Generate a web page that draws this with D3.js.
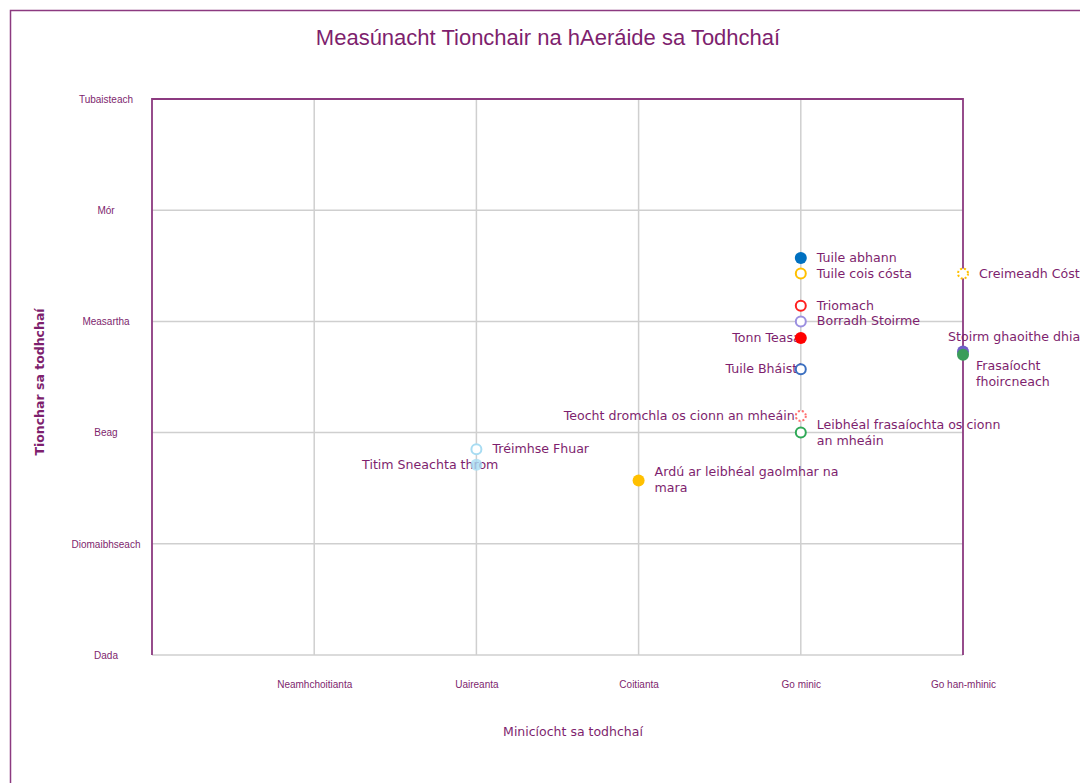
<!DOCTYPE html>
<html>
<head>
<meta charset="utf-8">
<script src="https://cdn.jsdelivr.net/npm/d3@7"></script>
<style>
  body { margin: 0; background: #fff; }
  svg { display: block; font-family: "DejaVu Sans", sans-serif; }
</style>
</head>
<body>
<div id="chart"></div>
<script>
// axis categories
const freqLabels = ["", "Neamhchoitianta", "Uaireanta", "Coitianta", "Go minic", "Go han-mhinic"];
const impactLabels = ["Dada", "Diomaibhseach", "Beag", "Measartha", "Mór", "Tubaisteach"];

// hazards: name, frequency (0-5), impact (0-5)
const hazardNames = [
  "Tuile abhann", "Tuile cois cósta", "Creimeadh Cósta", "Triomach", "Borradh Stoirme",
  "Tonn Teasa", "Stoirm ghaoithe dhian", "Frasaíocht fhoircneach", "Tuile Bháistí",
  "Teocht dromchla os cionn an mheáin", "Leibhéal frasaíochta os cionn an mheáin",
  "Tréimhse Fhuar", "Titim Sneachta throm", "Ardú ar leibhéal gaolmhar na mara"
];
const hazardFreq = [4, 4, 5, 4, 4, 4, 5, 5, 4, 4, 4, 2, 2, 3];
const hazardImpact = [3.57, 3.43, 3.43, 3.14, 3.0, 2.85, 2.73, 2.70, 2.57, 2.15, 2.0, 1.85, 1.71, 1.57];

// marker look + label placement (style only)
const markerStyle = {
  "Tuile abhann":        { color: "#0070c0", fill: true },
  "Tuile cois cósta":    { color: "#ffc000" },
  "Creimeadh Cósta":     { color: "#ffc000", dash: "2,2" },
  "Triomach":            { color: "#ff2020" },
  "Borradh Stoirme":     { color: "#9b8fe0" },
  "Tonn Teasa":          { color: "#ff0000", fill: true },
  "Stoirm ghaoithe dhian": { color: "#6f5fc8", fill: true },
  "Frasaíocht fhoircneach": { color: "#3a9d5a", fill: true },
  "Tuile Bháistí":       { color: "#3b6fc0" },
  "Teocht dromchla os cionn an mheáin": { color: "#ff7070", dash: "2,2" },
  "Leibhéal frasaíochta os cionn an mheáin": { color: "#2fa957" },
  "Tréimhse Fhuar":      { color: "#a8dcf2" },
  "Titim Sneachta throm": { color: "#a8dcf2", fill: true, opacity: 0.8 },
  "Ardú ar leibhéal gaolmhar na mara": { color: "#ffc000", fill: true }
};
const labelPlace = {
  "Tonn Teasa": { side: "left", dx: 6 },
  "Tuile Bháistí": { side: "left", dx: 6 },
  "Teocht dromchla os cionn an mheáin": { side: "left", dx: 0 },
  "Titim Sneachta throm": { side: "left", dx: 28 },
  "Stoirm ghaoithe dhian": { side: "above", dx: -15 },
  "Frasaíocht fhoircneach": { side: "below", lines: ["Frasaíocht", "fhoircneach"] },
  "Leibhéal frasaíochta os cionn an mheáin": { side: "right", lines: ["Leibhéal frasaíochta os cionn", "an mheáin"] },
  "Ardú ar leibhéal gaolmhar na mara": { side: "right", lines: ["Ardú ar leibhéal gaolmhar na", "mara"] }
};

const width = 1080, height = 783;
const purple = "#7e1f6e";
const grid = "#cfcfcf";

const svg = d3.select("#chart").append("svg")
  .attr("width", width)
  .attr("height", height);

// outer frame
svg.append("rect")
  .attr("x", 10.5).attr("y", 10.5)
  .attr("width", 1200).attr("height", 900)
  .attr("fill", "none")
  .attr("stroke", "#8c3a80")
  .attr("stroke-width", 1.5);

const x = d3.scaleLinear().domain([0, 5]).range([152, 963]);
const y = d3.scaleLinear().domain([0, 5]).range([655, 99]);

// gridlines
const gridG = svg.append("g");
gridG.selectAll("line.h")
  .data(d3.range(0, 5))
  .enter().append("line")
  .attr("class", "h")
  .attr("x1", x(0)).attr("x2", x(5))
  .attr("y1", d => y(d)).attr("y2", d => y(d))
  .attr("stroke", grid).attr("stroke-width", 1.5);
gridG.selectAll("line.v")
  .data(d3.range(1, 5))
  .enter().append("line")
  .attr("class", "v")
  .attr("x1", d => x(d)).attr("x2", d => x(d))
  .attr("y1", y(0)).attr("y2", y(5))
  .attr("stroke", grid).attr("stroke-width", 1.5);

// plot border (left, top, right)
svg.append("path")
  .attr("d", `M${x(0)},${y(0)}V${y(5)}H${x(5)}V${y(0)}`)
  .attr("fill", "none")
  .attr("stroke", "#8c3a80")
  .attr("stroke-width", 1.8);

// axes
const xAxis = svg.append("g")
  .attr("transform", `translate(0,${y(0)})`)
  .call(d3.axisBottom(x).tickValues([1, 2, 3, 4, 5]).tickFormat(d => freqLabels[d]).tickSize(0));
xAxis.select(".domain").remove();
xAxis.selectAll("text")
  .attr("y", 26)
  .attr("fill", purple)
  .style("font-size", "10px")
  .style("font-family", "'Liberation Sans', sans-serif");

const yAxis = svg.append("g")
  .call(d3.axisLeft(y).tickValues([0, 1, 2, 3, 4, 5]).tickFormat(d => impactLabels[d]).tickSize(0));
yAxis.select(".domain").remove();
yAxis.selectAll("text")
  .attr("x", 106)
  .attr("text-anchor", "middle")
  .attr("fill", purple)
  .style("font-size", "10px")
  .style("font-family", "'Liberation Sans', sans-serif");

// titles
svg.append("text")
  .attr("x", 548).attr("y", 45)
  .attr("text-anchor", "middle")
  .attr("fill", purple)
  .style("font-family", "'Liberation Sans', sans-serif")
  .style("font-size", "22px")
  .text("Measúnacht Tionchair na hAeráide sa Todhchaí");

svg.append("text")
  .attr("transform", "translate(44,382) rotate(-90)")
  .attr("text-anchor", "middle")
  .attr("fill", purple)
  .style("font-size", "12.5px")
  .style("font-weight", "bold")
  .text("Tionchar sa todhchaí");

svg.append("text")
  .attr("x", 573).attr("y", 736)
  .attr("text-anchor", "middle")
  .attr("fill", purple)
  .style("font-size", "12.5px")
  .text("Minicíocht sa todhchaí");

const hazards = hazardNames.map((n, i) => ({ name: n, freq: hazardFreq[i], impact: hazardImpact[i] }));

// labels (drawn before markers, markers sit on top)
const labels = svg.append("g")
  .style("font-size", "12.6px")
  .attr("fill", purple);

hazards.forEach(d => {
  const p = labelPlace[d.name] || { side: "right" };
  const px = x(d.freq), py = y(d.impact);
  const lines = p.lines || [d.name];
  let tx, ty, anchor = "start";
  if (p.side === "left") { tx = px - 6 + (p.dx || 0); ty = py + 4; anchor = "end"; }
  else if (p.side === "above") { tx = px + (p.dx || 0); ty = py - 10; }
  else if (p.side === "below") { tx = px + 13; ty = py + 15; }
  else { tx = px + 16; ty = py + 4 - (lines.length - 1) * 8; }
  const t = labels.append("text")
    .attr("x", tx).attr("y", ty)
    .attr("text-anchor", anchor);
  lines.forEach((l, i) => {
    t.append("tspan").attr("x", tx).attr("dy", i === 0 ? 0 : 16).text(l);
  });
});

// points
svg.append("g").selectAll("circle")
  .data(hazards)
  .enter().append("circle")
  .attr("cx", d => x(d.freq))
  .attr("cy", d => y(d.impact))
  .attr("r", d => markerStyle[d.name].fill ? 6 : 5)
  .attr("fill", d => markerStyle[d.name].fill ? markerStyle[d.name].color : "#fff")
  .attr("fill-opacity", d => markerStyle[d.name].opacity || 1)
  .attr("stroke", d => markerStyle[d.name].fill ? "none" : markerStyle[d.name].color)
  .attr("stroke-width", 2)
  .attr("stroke-dasharray", d => markerStyle[d.name].dash || null);
</script>
</body>
</html>
